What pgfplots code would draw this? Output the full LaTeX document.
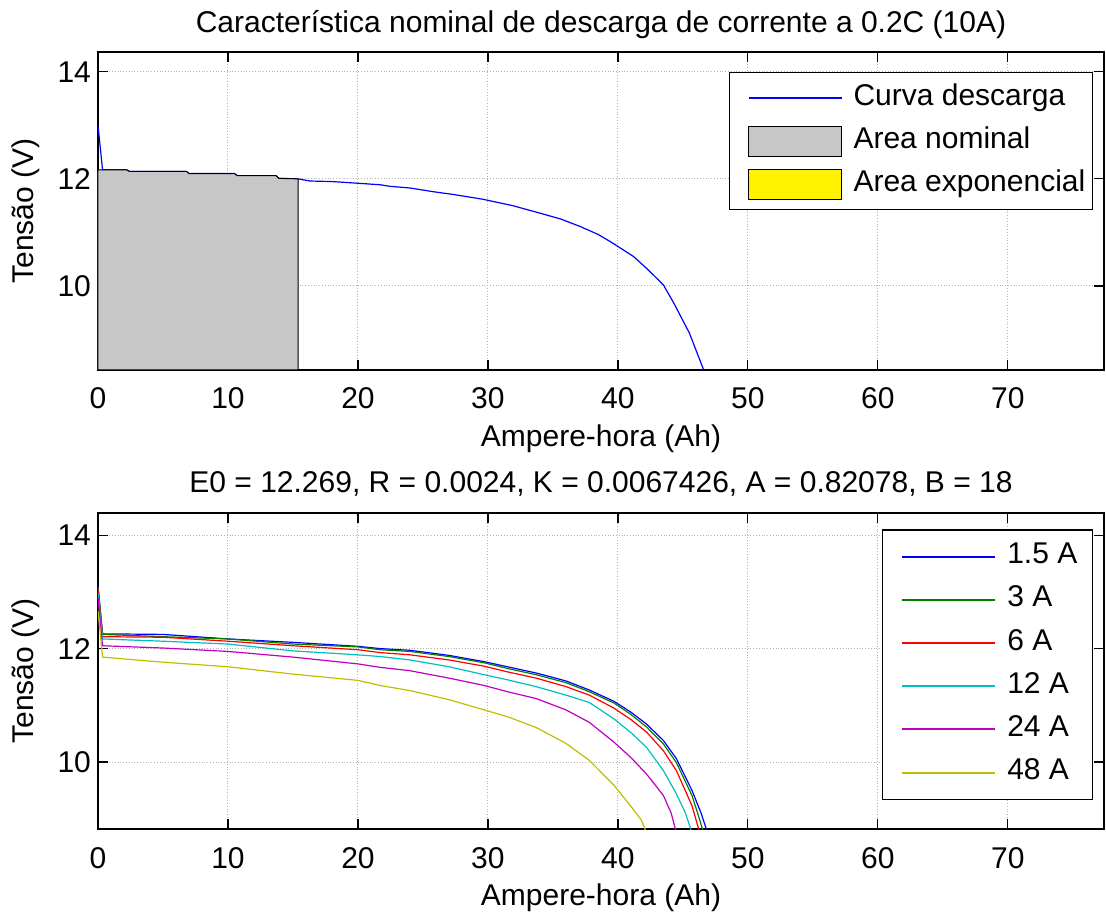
\documentclass[border=0pt]{standalone}
\usepackage{fontspec}
\setmainfont{Liberation Sans}
\usepackage{pgfplots}
\pgfplotsset{compat=1.18}

\definecolor{mblue}{rgb}{0,0,1}
\definecolor{mgreen}{rgb}{0,0.5,0}
\definecolor{mred}{rgb}{1,0,0}
\definecolor{mcyan}{rgb}{0,0.75,0.75}
\definecolor{mmag}{rgb}{0.75,0,0.75}
\definecolor{molive}{rgb}{0.75,0.75,0}
\definecolor{areagray}{rgb}{0.78,0.78,0.78}

\newcommand{\fs}{\fontsize{15}{18}\selectfont}

\pgfplotsset{
  mlab/.style={
    scale only axis, width=503pt,
    xmin=0, xmax=77.4,
    xtick={0,10,...,70}, ytick={10,12,14},
    tick align=inside, tick pos=both, major tick length=5pt,
    grid=major, grid style={densely dotted, gray!60, line width=0.5pt},
    axis line style={line width=0.6pt},
    every tick/.style={black, line width=0.6pt},
    /pgf/number format/assume math mode=true,
    tick label style={font=\fs},
    xticklabel style={anchor=base, yshift=-19.5pt},
    label style={font=\fs},
    legend cell align=left,
  },
  lineA/.style={legend image code/.code={\path (0pt,0pt); \draw[##1, line width=1pt] (5.85pt,0pt) -- (52.35pt,0pt);}},
  patchA/.style={legend image code/.code={\path (0pt,0pt); \draw[##1] (5.85pt,-7.5pt) rectangle (52.35pt,7.5pt);}},
  lineB/.style={legend image code/.code={\path (0pt,0pt); \draw[##1, line width=1pt] (2pt,0pt) -- (48.5pt,0pt);}},
}

\begin{document}
\begin{tikzpicture}
\path[use as bounding box] (-49pt,-271.5pt) rectangle (504pt,185pt);

% 0.2C discharge curve
\begin{axis}[mlab, lineA,
  at={(0pt,0pt)}, anchor=south west, height=159pt,
  ymin=8.43, ymax=14.37,
  title={Característica nominal de descarga de corrente a 0.2C (10A)},
  every axis title/.style={at={(axis description cs:0.5,1.0613)}, anchor=base, font=\fs},
  xlabel={Ampere-hora (Ah)},
  xlabel style={at={(axis description cs:0.5,-0.2421)}, anchor=base},
  ylabel={Tensão (V)},
  ylabel style={at={(axis description cs:-0.0646,0.5)}, anchor=base},
  legend style={at={(0.989,0.937)}, anchor=north east, line width=0.6pt,
    font=\fs, inner xsep=3.5pt, inner ysep=2pt, column sep=5.35pt,
    nodes={inner xsep=0pt, inner ysep=3.75pt, text height=10.5pt, text depth=3.5pt}},
]
\addplot[color=mblue, line width=0.6pt] coordinates {
  (0,13.00) (0.35,12.17) (2.2,12.17) (2.4,12.14) (6.8,12.14) (7.0,12.10)
  (10.5,12.10) (10.7,12.06) (13.7,12.06) (13.9,12.01) (15.4,12.00) (16.3,11.96)
  (18,11.95) (19.9,11.92) (21.7,11.89) (22.5,11.86) (24,11.83) (25.8,11.76)
  (27.3,11.71) (29.6,11.62) (31.9,11.50) (34,11.36) (35.6,11.25) (37.1,11.11)
  (38.5,10.96) (39.6,10.80) (41.2,10.55) (42.2,10.33) (43.5,10.02) (44.3,9.68)
  (45.5,9.12) (46.6,8.43)
};
\addlegendentry{Curva descarga}
\addplot[patchA, fill=areagray, draw=black, line width=0.5pt] coordinates {
  (0,8.43) (0,12.17) (2.2,12.17) (2.4,12.14) (6.8,12.14) (7.0,12.10)
  (10.5,12.10) (10.7,12.06) (13.7,12.06) (13.9,12.01) (15.4,12.00) (15.4,8.43)
} --cycle;
\addlegendentry{Area nominal}
\addlegendimage{patchA, fill=yellow, draw=black, line width=0.5pt}
\addlegendentry{Area exponencial}
\end{axis}

% discharge at several currents
\begin{axis}[mlab, lineB,
  at={(0pt,-229.5pt)}, anchor=south west, height=158pt,
  ymin=8.82, ymax=14.39,
  title={E0 = 12.269, R = 0.0024, K = 0.0067426, A = 0.82078, B = 18},
  every axis title/.style={at={(axis description cs:0.5,1.0633)}, anchor=base, font=\fs},
  xlabel={Ampere-hora (Ah)},
  xlabel style={at={(axis description cs:0.5,-0.2405)}, anchor=base},
  ylabel={Tensão (V)},
  ylabel style={at={(axis description cs:-0.0646,0.5)}, anchor=base},
  legend style={at={(0.989,0.948)}, anchor=north east, line width=0.6pt,
    font=\fs, inner xsep=7.5pt, inner ysep=2.5pt, column sep=5.65pt,
    nodes={inner xsep=0pt, inner ysep=3.8pt, text height=10.5pt, text depth=3.5pt}},
]
\addplot[color=mblue, line width=0.6pt] coordinates {
  (0,13.11) (0.35,12.26) (5,12.25) (10,12.17) (15,12.11) (20,12.04) (21.7,12.00)
  (24,11.97) (27,11.88) (29.7,11.77) (31.5,11.68) (33.7,11.57) (36,11.43)
  (37.8,11.27) (39.7,11.07) (41,10.88) (42.2,10.67) (43.5,10.38) (44.5,10.06)
  (45.7,9.50) (46.4,9.10) (46.9,8.75)
};
\addlegendentry{1.5 A}
\addplot[color=mgreen, line width=0.6pt] coordinates {
  (0,13.08) (0.35,12.25) (5,12.21) (10,12.17) (15,12.08) (20,12.03) (21.7,11.98)
  (24,11.95) (27,11.86) (29.7,11.75) (31.5,11.65) (33.7,11.54) (36,11.40)
  (37.8,11.24) (39.7,11.04) (41,10.84) (42.2,10.62) (43.5,10.32) (44.5,9.99)
  (45.7,9.41) (46.2,9.05) (46.6,8.75)
};
\addlegendentry{3 A}
\addplot[color=mred, line width=0.6pt] coordinates {
  (0,13.05) (0.35,12.21) (5,12.20) (10,12.13) (15,12.05) (20,11.98) (21.7,11.93)
  (24,11.89) (27,11.80) (29.7,11.69) (31.5,11.59) (33.7,11.48) (36,11.33)
  (37.8,11.18) (39.7,10.95) (41,10.75) (42.2,10.53) (43.5,10.20) (44.5,9.85)
  (45.7,9.23) (46.3,8.75)
};
\addlegendentry{6 A}
\addplot[color=mcyan, line width=0.6pt] coordinates {
  (0,12.98) (0.35,12.17) (5,12.13) (10,12.08) (15,11.96) (20,11.89) (21.7,11.86)
  (24,11.80) (27,11.68) (29.7,11.54) (31.5,11.45) (33.7,11.33) (36,11.18)
  (37.8,11.05) (39.7,10.76) (41,10.52) (42.2,10.26) (43.5,9.85) (44.5,9.44)
  (45.2,9.10) (45.7,8.75)
};
\addlegendentry{12 A}
\addplot[color=mmag, line width=0.6pt] coordinates {
  (0,12.90) (0.35,12.05) (5,12.01) (10,11.95) (15,11.85) (20,11.73) (21.7,11.67)
  (24,11.61) (27,11.48) (29.7,11.35) (31.5,11.24) (33.7,11.12) (36,10.92)
  (37.8,10.70) (39.7,10.35) (41,10.08) (42.2,9.79) (43.5,9.41) (44.1,9.10)
  (44.5,8.75)
};
\addlegendentry{24 A}
\addplot[color=molive, line width=0.6pt] coordinates {
  (0,12.67) (0.35,11.85) (5,11.76) (10,11.68) (15,11.55) (20,11.44) (21.7,11.35)
  (24,11.26) (27,11.10) (29.7,10.92) (31.5,10.80) (33.7,10.61) (36,10.33)
  (37.8,10.03) (39.7,9.59) (41,9.22) (41.8,8.98) (42.2,8.75)
};
\addlegendentry{48 A}
\end{axis}
\end{tikzpicture}
\end{document}
